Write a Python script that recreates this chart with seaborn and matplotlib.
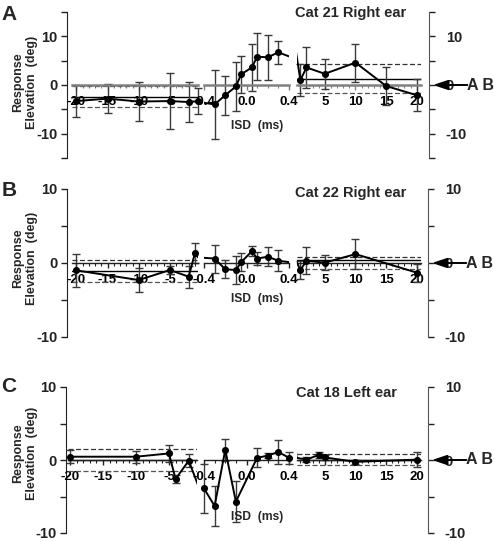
import matplotlib
matplotlib.use('Agg')
import matplotlib.pyplot as plt
import matplotlib.ticker as mticker
import seaborn as sns

sns.set_style('ticks')
plt.rcParams['font.family'] = ['Liberation Sans', 'DejaVu Sans']
plt.rcParams['font.weight'] = 'bold'
plt.rcParams['axes.unicode_minus'] = False

# ---- data ----
panel_letters = ['A', 'B', 'C']
titles = ['Cat 21 Right ear', 'Cat 22 Right ear', 'Cat 18 Left ear']

isd_a = [-20, -15, -10, -5, -2, -0.5, -0.3, -0.2, -0.1, -0.05, 0.05, 0.1, 0.2, 0.3,
         1, 2, 5, 10, 15, 20]
elev_a = [-3.3, -2.8, -3.4, -3.3, -3.5, -3.3, -4.0, -2.1, -0.3, 2.2, 3.6, 5.8, 5.7, 6.7,
          1.0, 3.6, 2.3, 4.6, -0.2, -2.1]
err_a = [3.3, 3.0, 4.0, 5.8, 4.2, 2.6, 7.0, 4.0, 5.0, 3.8, 4.8, 4.8, 4.6, 2.4,
         3.3, 4.3, 3.1, 3.9, 3.9, 3.3]

isd_b = [-20, -10, -5, -2, -1, -0.3, -0.2, -0.1, -0.05, 0.05, 0.1, 0.2, 0.3,
         1, 2, 5, 10, 20]
elev_b = [-1.0, -2.3, -0.95, -1.85, 1.3, 0.6, -0.85, -0.95, 0.1, 1.6, 0.6, 0.85, 0.3,
          -0.95, 0.3, 0.05, 1.2, -1.3]
err_b = [2.2, 1.6, 0.6, 1.5, 1.35, 1.9, 1.2, 1.9, 1.2, 0.7, 0.9, 1.3, 1.4,
         1.2, 1.8, 1.05, 2.0, 1.2]

isd_c = [-20, -10, -5, -4, -2, -0.4, -0.3, -0.2, -0.1, 0.1, 0.2, 0.3, 0.4,
         2, 4, 5, 10, 20]
elev_c = [0.45, 0.45, 0.9, -2.6, -0.1, -3.9, -6.3, 1.4, -5.7, 0.3, 0.6, 1.1, 0.3,
          0.05, 0.7, 0.35, -0.25, 0.05]
err_c = [0.9, 0.8, 1.2, 0.6, 0.9, 3.3, 2.8, 1.5, 2.8, 1.3, 0.3, 1.6, 0.8,
         0.3, 0.4, 0.3, 0.3, 1.0]

# single-sound reference: mean (solid) and +/- SD (dashed), left and right segment
ref_a = [(-2.45, -0.3, -4.6), (1.2, 4.3, -1.7)]
ref_b = [(-1.05, 0.4, -2.5), (0.4, 0.75, -0.85)]
ref_c = [(0.0, 1.5, -1.5), (0.05, 0.85, -0.7)]

seg_ticks = [[-20, -15, -10, -5], [-0.4, 0.0, 0.4], [5, 10, 15, 20]]
seg_ticklabels = [['-20', '-15', '-10', '-5'], ['-0.4', '0.0', '0.4'], ['5', '10', '15', '20']]
yticks_a = [-15, -10, -5, 0, 5, 10, 15]
yticklabels_a = ['', '-10', '', '0', '', '10', '']
yticks_bc = [-10, -5, 0, 5, 10]
yticklabels_bc = ['-10', '', '0', '', '10']

panels = [(isd_a, elev_a, err_a, ref_a), (isd_b, elev_b, err_b, ref_b), (isd_c, elev_c, err_c, ref_c)]

# ---- layout (pixels) ----
W, H = 494, 542


def box(x0, y0, x1, y1):
    return [x0 / W, 1 - y1 / H, (x1 - x0) / W, (y1 - y0) / H]


panel_px = [(67, 12, 429, 158), (67, 189, 428, 337), (66, 387, 428, 533)]
ylims = [(-15, 15), (-10, 10), (-10, 10)]
seg_px = [[(72, 198), (204, 289), (297, 421)],
          [(72, 198), (204, 289), (297, 421)],
          [(68, 197), (204, 289), (297, 421)]]
seg_xlim = [[(-20.7, -0.5), (-0.4, 0.4), (0.45, 20.7)],
            [(-20.7, -0.5), (-0.4, 0.4), (0.45, 20.7)],
            [(-20.3, -0.75), (-0.4, 0.4), (0.45, 20.7)]]
seg_minor = [1, 0.1, 1]
axis_color = ['#808080', '#222222', '#222222']
axis_lw = [1.8, 1.0, 1.0]
isd_pos = [(257, 126), (257, 299), (257, 517)]
title_pos = [(351, 13), (351, 193), (346, 393)]
letter_pos = [(9, 14), (9, 190), (9, 387)]
ylab_pos = [(25, 82), (25, 258), (25, 453)]


def seg_index(x):
    if x < -0.45:
        return 0
    if x <= 0.45:
        return 1
    return 2


fig = plt.figure(figsize=(W / 100, H / 100), dpi=100)

for p in range(3):
    isd, elev, err, ref = panels[p]
    x0, y0, x1, y1 = panel_px[p]
    yt = yticks_a if p == 0 else yticks_bc
    ytl = yticklabels_a if p == 0 else yticklabels_bc

    ax = fig.add_axes(box(x0, y0, x1, y1))
    ax.set_facecolor('none')
    ax.set_ylim(*ylims[p])
    ax.set_xticks([])
    for s in ['top', 'bottom', 'right']:
        ax.spines[s].set_visible(False)
    ax.spines['left'].set_color('#222222')
    ax.set_yticks(yt, labels=ytl)
    ax.tick_params(axis='y', length=4, width=1, pad=3, labelsize=10.5, colors='#222222')

    axr = ax.twinx()
    axr.set_ylim(*ylims[p])
    for s in ['top', 'bottom', 'left']:
        axr.spines[s].set_visible(False)
    axr.spines['right'].set_color('#555555')
    axr.set_yticks(yt, labels=ytl)
    axr.tick_params(axis='y', length=4, width=1, pad=8, labelsize=10.5, colors='#222222')

    axr.annotate('', xy=(1.011, 0), xycoords=axr.get_yaxis_transform(),
                 xytext=(1.106, 0), textcoords=axr.get_yaxis_transform(),
                 arrowprops=dict(arrowstyle='-|>,head_length=0.9,head_width=0.3',
                                 color='black', lw=1.4, shrinkA=0, shrinkB=0),
                 annotation_clip=False)
    axr.text(1.105, 0, 'A B', transform=axr.get_yaxis_transform(),
             ha='left', va='center', fontsize=11.5)

    for k in range(3):
        sx0, sx1 = seg_px[p][k]
        sa = fig.add_axes(box(sx0, y0, sx1, y1))
        sa.set_facecolor('none')
        for s in ['top', 'left', 'right']:
            sa.spines[s].set_visible(False)
        sa.spines['bottom'].set_position(('data', 0))
        sa.spines['bottom'].set_color(axis_color[p])
        sa.spines['bottom'].set_linewidth(axis_lw[p])
        sa.set_yticks([])

        if k != 1:
            mean, up, lo = ref[0 if k == 0 else 1]
            sa.axhline(mean, color='black', lw=1.0, zorder=1)
            sa.axhline(up, color='#333333', lw=0.9, ls=(0, (4, 2)), zorder=1)
            sa.axhline(lo, color='#555555', lw=0.9, ls=(0, (4, 2)), zorder=1)

        sns.lineplot(x=isd, y=elev, ax=sa, color='black', lw=1.4, sort=False,
                     estimator=None, zorder=3)

        xs = [x for x in isd if seg_index(x) == k]
        ys = [y for x, y in zip(isd, elev) if seg_index(x) == k]
        es = [e for x, e in zip(isd, err) if seg_index(x) == k]
        sa.errorbar(xs, ys, yerr=es, fmt='none', ecolor='#3a3a3a', elinewidth=1.0,
                    capsize=2.8, capthick=1.0, clip_on=False, zorder=2)
        sns.scatterplot(x=xs, y=ys, ax=sa, color='black', s=26, linewidth=0,
                        clip_on=False, zorder=5)

        sa.set_xlim(*seg_xlim[p][k])
        sa.set_ylim(*ylims[p])
        sa.set_xticks(seg_ticks[k], labels=seg_ticklabels[k])
        sa.xaxis.set_minor_locator(mticker.MultipleLocator(seg_minor[k]))
        sa.tick_params(axis='x', which='major', length=3.5, width=1, pad=4.5,
                       labelsize=9.5, colors=axis_color[p])
        sa.tick_params(axis='x', which='minor', length=2, width=0.8, colors=axis_color[p])
        for lab in sa.get_xticklabels():
            lab.set_color('black')
        sa.set_xlabel('')
        sa.set_ylabel('')

    fig.text(isd_pos[p][0] / W, 1 - isd_pos[p][1] / H, 'ISD  (ms)',
             ha='center', va='center', fontsize=8.7)
    fig.text(title_pos[p][0] / W, 1 - title_pos[p][1] / H, titles[p],
             ha='center', va='center', fontsize=10.5)
    fig.text(letter_pos[p][0] / W, 1 - letter_pos[p][1] / H, panel_letters[p],
             ha='center', va='center', fontsize=15)
    fig.text(ylab_pos[p][0] / W, 1 - ylab_pos[p][1] / H, 'Response\nElevation  (deg)',
             ha='center', va='center', rotation=90, fontsize=9, linespacing=1.15)

fig.savefig('out.png', dpi=100)
